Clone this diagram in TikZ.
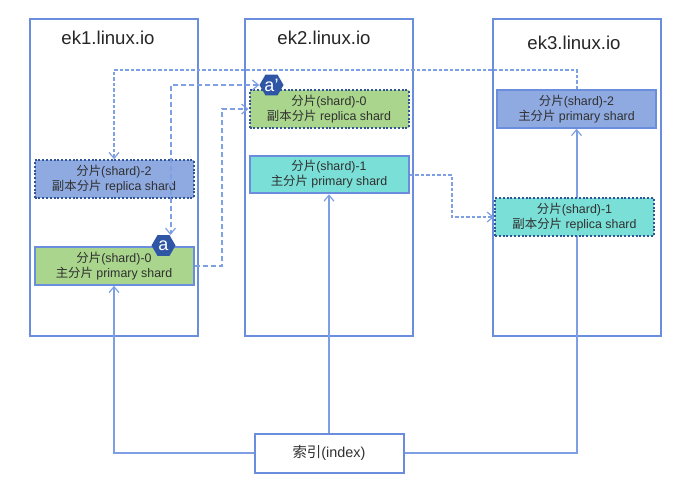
\documentclass[tikz,border=0pt]{standalone}
\usepackage{fontspec}
\setmainfont{Liberation Sans}
\newfontfamily\cjkf{Noto Sans CJK SC}
\newcommand{\zh}[1]{{\cjkf #1}}
\usetikzlibrary{arrows.meta,shapes.geometric}
\definecolor{linec}{HTML}{7F9FE4}
\definecolor{borderc}{HTML}{6A8EDD}
\definecolor{dotc}{HTML}{2F5597}
\definecolor{hexc}{HTML}{2F55A5}
\definecolor{greenc}{HTML}{A9D58C}
\definecolor{bluec}{HTML}{8FAAE0}
\definecolor{tealc}{HTML}{7ADFD6}
\definecolor{textc}{HTML}{303030}
\tikzset{
  barb/.tip={Straight Barb[length=6pt,width=10pt,line width=1.2pt]},
  hostbox/.style={draw=borderc,line width=2pt,fill=white,minimum width=168pt,minimum height=317pt,inner sep=0pt},
  hosttitle/.style={font=\fontsize{18.6}{20}\selectfont,text=black!85,inner sep=0pt},
  shard/.style={minimum width=159pt,minimum height=37.5pt,inner sep=0pt,align=center,text=textc,
    font=\fontsize{12.4}{15}\selectfont},
  primaryshard/.style={shard,draw=borderc,line width=2pt},
  replicashard/.style={shard,draw=dotc,line width=2pt,dash pattern=on 2pt off 1.8pt},
  solidlink/.style={draw=linec,line width=2pt,-barb},
  dashlink/.style={draw=linec,line width=2pt,dash pattern=on 5pt off 3pt,-barb},
  dashlinkfine/.style={draw=linec,line width=2pt,dash pattern=on 3.5pt off 2pt,-barb},
  hexmark/.style={regular polygon,regular polygon sides=6,fill=hexc,minimum size=24pt,inner sep=0pt,text=white,
    font=\fontsize{18}{18}\selectfont},
  indexbox/.style={draw=borderc,line width=2pt,fill=white,minimum width=149pt,minimum height=39pt,inner sep=0pt,
    text=textc,font=\fontsize{14.4}{16}\selectfont}
}
\begin{document}
\begin{tikzpicture}[x=1pt,y=-1pt]
\useasboundingbox[fill=white] (0,0) rectangle (690,493);
% hosts
\node[hostbox] (ek1) at (114,177.5) {};
\node[hostbox] (ek2) at (329,177.5) {};
\node[hostbox] (ek3) at (576.5,177.5) {};
\node[hosttitle] (t1) at (108,37.5) {ek1.linux.io};
\node[hosttitle] (t2) at (324,37.5) {ek2.linux.io};
\node[hosttitle] (t3) at (574,43) {ek3.linux.io};
% index
\node[indexbox] (idx) at (329,453) {\zh{索引}(index)};
\coordinate (ctop) at (170.5,235);
% shards and links
\node[primaryshard,fill=greenc] (s0p) at (114,266) {\zh{分片}(shard)-0\\\zh{主分片} primary shard};
\node[replicashard,fill=bluec] (s2r) at (114,179) {\zh{分片}(shard)-2\\\zh{副本分片} replica shard};
\node[replicashard,fill=greenc] (s0r) at (329,109) {\zh{分片}(shard)-0\\\zh{副本分片} replica shard};
\node[primaryshard,fill=tealc] (s1p) at (329,174.5) {\zh{分片}(shard)-1\\\zh{主分片} primary shard};
\node[primaryshard,fill=bluec] (s2p) at (576.5,109) {\zh{分片}(shard)-2\\\zh{主分片} primary shard};
\draw[solidlink] (idx.west) -| (s0p.south);
\draw[solidlink] (idx.north) -- (s1p.south);
\draw[solidlink] (idx.east) -| (s2p.south);
\node[replicashard,fill=tealc] (s1r) at (574.5,217) {\zh{分片}(shard)-1\\\zh{副本分片} replica shard};
\draw[dashlinkfine] (s2p.north) -- ++(0,-19.5) -| (s2r.north);
\draw[dashlink] (s0p.east) -- ++(27,0) |- (s0r.west);
\draw[dashlinkfine] (s1p.east) -- ++(42,0) |- (s1r.west);
\node[hexmark] (hexa) at (163.5,245.5) {a};
\node[hexmark] (hexb) at (271.5,85) {a'};
\draw[dashlink,barb-barb] (hexb.west) -| (ctop);
\end{tikzpicture}
\end{document}
